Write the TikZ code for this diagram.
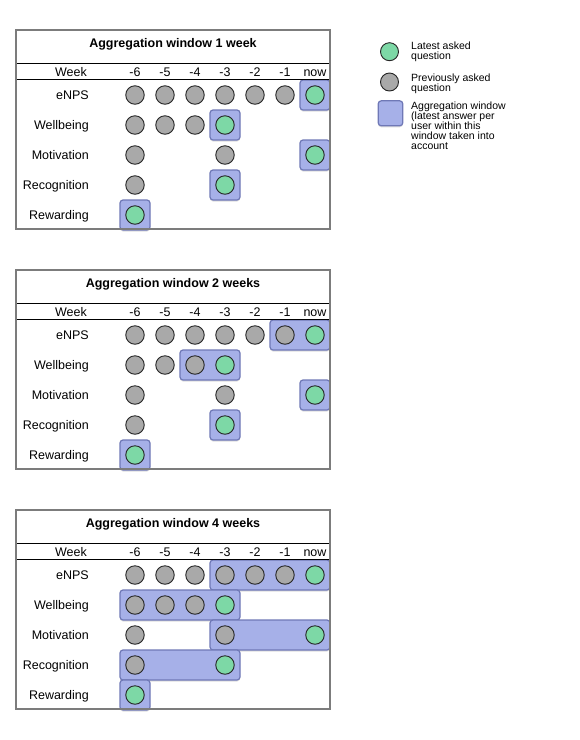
\documentclass[tikz,border=0pt]{standalone}
\usepackage{fontspec}
\setmainfont{Liberation Sans}
\usetikzlibrary{shadows}
\definecolor{qgreen}{HTML}{7DD8A6}
\definecolor{qgray}{HTML}{A9A9A9}
\definecolor{winfill}{HTML}{A6B0E8}
\definecolor{windraw}{HTML}{6F78B6}
\definecolor{framegray}{HTML}{7C7C7C}
\tikzset{
  qbase/.style={circle, draw=black!85, line width=0.9pt, minimum size=18.5pt, inner sep=0pt},
  ql/.style={qbase, fill=qgreen},
  qp/.style={qbase, fill=qgray},
  window/.style={draw=windraw, fill=winfill, line width=1.2pt, rounded corners=3pt, inner sep=0pt,
    drop shadow={opacity=0.25, shadow xshift=0pt, shadow yshift=-1.5pt}},
  rowlabel/.style={anchor=base east, inner sep=0pt, font=\fontsize{12.5}{14}\selectfont},
  collabel/.style={anchor=base, inner sep=0pt, font=\fontsize{12.5}{14}\selectfont},
  paneltitle/.style={anchor=base, inner sep=0pt, font=\fontsize{12.5}{14}\selectfont\bfseries},
  legendtext/.style={anchor=north west, inner sep=0pt, align=left, font=\fontsize{10.5}{10}\selectfont},
  rule/.style={black, line width=0.8pt},
  frame/.style={framegray, line width=1.3pt},
}
\def\winsA{0/6/6,1/3/3,2/6/6,3/3/3,4/0/0}
\def\winsB{0/5/6,1/2/3,2/6/6,3/3/3,4/0/0}
\def\winsC{0/3/6,1/0/3,2/3/6,3/0/3,4/0/0}
\begin{document}
\begin{tikzpicture}[x=1pt,y=-1pt]
\fill[white] (0,0) rectangle (580,740);
\useasboundingbox (0,0) rectangle (580,740);
\foreach \p/\oy/\wins/\wtxt in {1/0/\winsA/1 week,2/240/\winsB/2 weeks,3/480/\winsC/4 weeks}{
  \edef\curwins{\wins}
  \begin{scope}[shift={(0,\oy)}]
    % aggregation windows
    \foreach \r/\a/\b in \curwins {
      \node[window, minimum width={(\b-\a+1)*30}, minimum height=30]
        (p\p-win\r) at ({135+15*(\a+\b)},{95+30*\r}) {};
    }
    % question circles
    \foreach \r/\cells in {0/{0/qp,1/qp,2/qp,3/qp,4/qp,5/qp,6/ql},1/{0/qp,1/qp,2/qp,3/ql},2/{0/qp,3/qp,6/ql},3/{0/qp,3/ql},4/{0/ql}}{
      \foreach \c/\t in \cells {
        \node[\t] (p\p-r\r-c\c) at ({135+30*\c},{95+30*\r}) {};
      }
    }
    % row labels
    \foreach \r/\lab in {0/eNPS,1/Wellbeing,2/Motivation,3/Recognition,4/Rewarding}{
      \node[rowlabel] (p\p-lab\r) at (89,{99.5+30*\r}) {\lab};
    }
    % column header
    \node[rowlabel] (p\p-week) at (87,76.5) {Week};
    \foreach \c/\lab in {0/-6,1/-5,2/-4,3/-3,4/-2,5/-1,6/now}{
      \node[collabel] (p\p-col\c) at ({135+30*\c},76.5) {\lab};
    }
    % title
    \node[paneltitle] (p\p-title) at (173,47.5) {Aggregation window \wtxt};
    \draw[rule] (16,63) -- (330,63);
    \draw[rule] (16,79) -- (330,79);
    \draw[frame] (16,30) rectangle (330,229);
  \end{scope}
}
% legend
\node[ql, minimum size=18pt] (leg-latest) at (389.5,51.7) {};
\node[qp, minimum size=18pt] (leg-prev) at (389.5,82) {};
\node[window, minimum width=24.5, minimum height=25] (leg-win) at (390.5,113.3) {};
\node[legendtext] (leg-t1) at (411,42) {Latest asked\\question};
\node[legendtext] (leg-t2) at (411,74) {Previously asked\\question};
\node[legendtext] (leg-t3) at (411,102) {Aggregation window\\(latest answer per\\user within this\\window taken into\\account};
\end{tikzpicture}
\end{document}
